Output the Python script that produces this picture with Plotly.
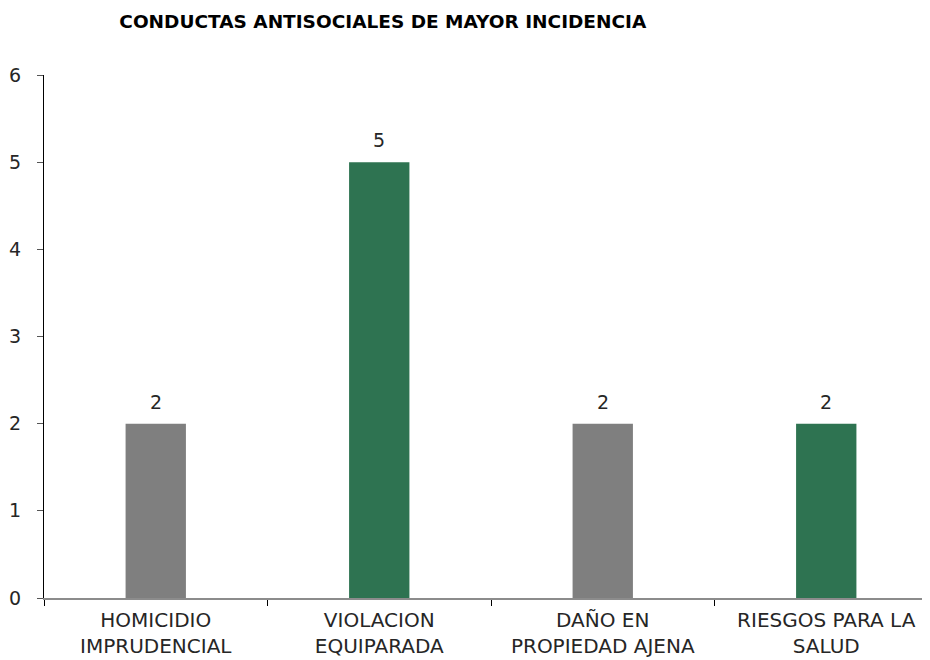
import plotly.graph_objects as go

categorias = ['HOMICIDIO<br>IMPRUDENCIAL', 'VIOLACION<br>EQUIPARADA',
              'DAÑO EN<br>PROPIEDAD AJENA', 'RIESGOS PARA LA<br>SALUD']
valores = [2, 5, 2, 2]
colores = ['#7f7f7f', '#2e7351', '#7f7f7f', '#2e7351']

FONT = '"DejaVu Sans", sans-serif'

fig = go.Figure(go.Bar(
    x=categorias, y=valores,
    marker=dict(color=colores, line=dict(width=0)),
    width=0.27,
    hoverinfo='x+y',
))

# etiquetas de datos sobre cada barra
for c, v in zip(categorias, valores):
    fig.add_annotation(x=c, y=v, text=str(v), showarrow=False,
                       yanchor='bottom', yshift=9,
                       font=dict(size=19, color='#262626', family=FONT))

fig.update_layout(
    title=dict(text='<b>CONDUCTAS ANTISOCIALES DE MAYOR INCIDENCIA</b>',
               x=0.403, xanchor='center', y=0.98, yanchor='middle',
               font=dict(size=18.5, color='#000000', family=FONT)),
    width=930, height=660,
    margin=dict(l=36, r=0, t=67, b=70),
    plot_bgcolor='white', paper_bgcolor='white',
    showlegend=False,
    font=dict(family=FONT, color='#262626'),
)
fig.update_xaxes(
    range=[-0.5, 3.5],
    showline=True, linecolor='#8c8c8c', linewidth=1.5,
    ticks='outside', tickson='boundaries', ticklen=6, tickcolor='#000000',
    tickfont=dict(size=20, color='#262626'),
    ticklabelstandoff=3,
    showgrid=False,
)
fig.update_yaxes(
    range=[0, 6], dtick=1,
    showline=True, linecolor='#000000', linewidth=1,
    ticks='outside', ticklen=6, tickcolor='#555555',
    tickfont=dict(size=19, color='#262626'),
    ticklabelstandoff=12,
    showgrid=False, zeroline=False,
)

fig.write_html('out.html')
